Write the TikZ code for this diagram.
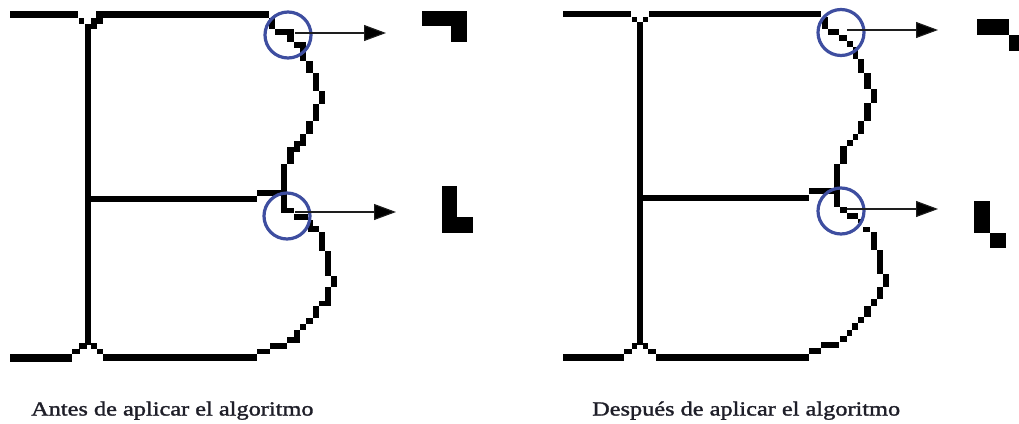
\documentclass[tikz,border=0pt]{standalone}
\usepackage{fontspec}
\usetikzlibrary{arrows.meta}
\newfontfamily\capfont[FakeBold=1.5,FakeStretch=1.216]{Liberation Serif}
\definecolor{ringblue}{RGB}{62,78,160}
\definecolor{captionink}{RGB}{30,30,40}
\definecolor{pointerink}{RGB}{30,30,30}
\tikzset{
  ring/.style={circle,draw=ringblue,line width=3.2pt,minimum size=46pt,inner sep=0pt},
  pointer/.style={draw=pointerink,line width=1.1pt,-{Triangle[length=22pt,width=16pt,fill=black]}},
  captiontext/.style={anchor=base west,inner sep=0pt,text=captionink,font=\capfont\fontsize{20}{23}\selectfont}
}
\newcommand{\inkruns}[1]{\foreach \xa/\ya/\xb/\yb in {#1}{\fill[black] (\xa,\ya) rectangle (\xb,\yb);}}
\begin{document}
\begin{tikzpicture}[x=1pt,y=-1pt]
\useasboundingbox (0,0) rectangle (1019,423);
\fill[white] (0,0) rectangle (1019,423);
% left letter
\inkruns{10/11/78/18, 79/18/84/24, 96/11/269/18, 91/18/103/24, 85/24/97/29, 85/24/91/345,
 10/354/72/362, 72/349/80/354, 79/343/87/349, 91/343/97/349, 97/349/103/354, 103/354/257/361,
 269/18/275/29, 275/29/294/35, 287/35/294/42, 294/42/306/48, 300/48/306/61, 306/61/313/73,
 313/73/319/91, 319/91/325/104, 313/104/319/121, 306/121/313/134, 300/134/306/146, 294/141/300/152,
 287/147/294/164, 281/164/287/196, 257/190/282/196, 91/196/257/202,
 281/196/287/213, 287/208/294/213, 294/214/308/220, 308/220/313/226, 308/226/319/232, 319/232/325/251,
 325/251/331/276, 331/276/337/287, 325/287/331/305, 319/301/331/306, 313/306/319/318, 306/318/313/324,
 300/324/306/330, 294/330/300/343, 287/337/300/343, 270/343/287/349, 257/349/270/354}
% right letter
\inkruns{563/11/631/17, 632/17/637/22, 637/22/643/345, 643/17/648/22, 649/11/821/17,
 563/354/624/361, 624/349/632/354, 632/343/637/349, 643/343/648/349, 648/349/656/354, 656/354/809/361,
 822/17/828/29, 828/29/839/35, 839/35/847/41, 847/41/853/47, 853/47/858/59, 858/59/864/73,
 864/73/871/89, 871/89/877/103, 864/103/871/121, 858/121/864/134, 853/134/858/140, 847/140/853/146,
 840/146/847/164, 834/164/840/194, 809/188/834/194, 643/195/809/201,
 834/194/840/207, 840/207/847/213, 847/213/858/219, 858/219/861/223, 863/227/870/232, 871/232/877/250,
 877/250/883/274, 883/274/889/287, 877/287/883/299, 871/299/877/306, 864/306/871/317, 858/317/864/323,
 852/323/858/330, 847/330/852/336, 840/336/847/342, 821/342/839/348, 809/348/821/354}
% enlarged details
\inkruns{422/11/467/26, 451/26/467/42, 442/186/457/233, 457/217/473/233,
 977/19/1009/35, 1009/35/1019/51, 974/201/990/233, 990/233/1006/248}
% rings
\node[ring] (r1) at (288,35) {};
\node[ring] (r2) at (287,216) {};
\node[ring] (r3) at (841,32.5) {};
\node[ring] (r4) at (841,211) {};
% pointers
\coordinate (s1) at (295,33);  \coordinate (t1) at (386,33);
\coordinate (s2) at (295,212); \coordinate (t2) at (396,212);
\coordinate (s3) at (847,30);  \coordinate (t3) at (938,30);
\coordinate (s4) at (847,209); \coordinate (t4) at (938,209);
\draw[pointer] (s1) -- (t1);
\draw[pointer] (s2) -- (t2);
\draw[pointer] (s3) -- (t3);
\draw[pointer] (s4) -- (t4);
% captions
\node[captiontext] (c1) at (31,415.5) {Antes de aplicar el algoritmo};
\node[captiontext] (c2) at (592,415.5) {Después de aplicar el algoritmo};
\end{tikzpicture}
\end{document}
